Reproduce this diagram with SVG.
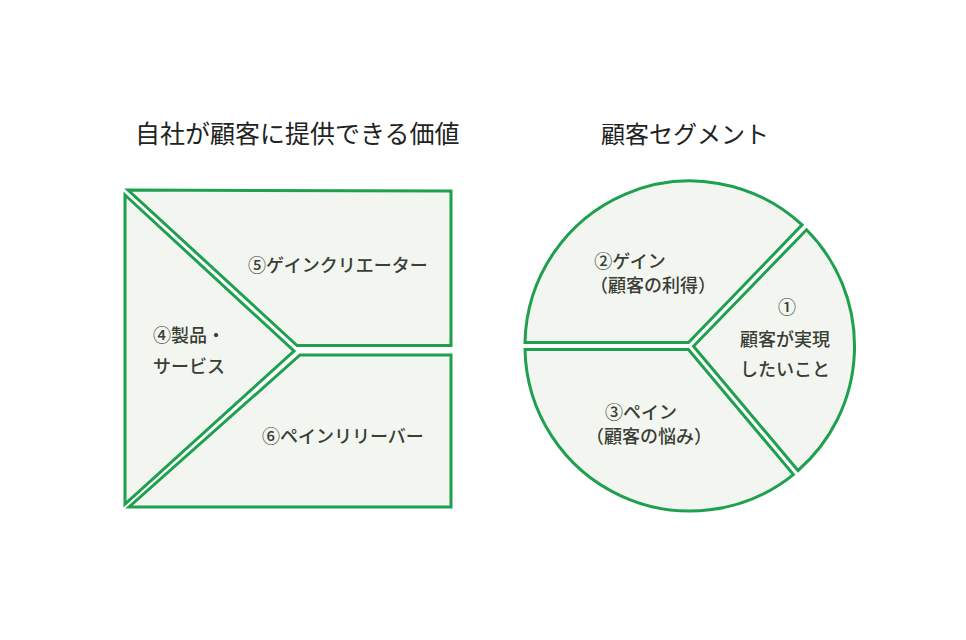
<svg xmlns="http://www.w3.org/2000/svg" width="966" height="640" viewBox="0 0 966 640">
<style>
.region{fill:#f3f6f0;stroke:#1fa04f;stroke-width:3;stroke-linejoin:miter}
.title{font-family:"Noto Sans CJK JP","Noto Sans",sans-serif;fill:#222;font-size:25px}
.lbl{font-family:"Noto Sans CJK JP","Noto Sans",sans-serif;fill:#3a3e35;font-size:18px;font-weight:500}
</style>
<rect width="966" height="640" fill="#ffffff"/>
<text class="title" x="135" y="143">自社が顧客に提供できる価値</text>
<text class="title" x="601" y="143" style="font-size:24px">顧客セグメント</text>

<g id="value-map">
  <g id="gain-creators">
    <path class="region" d="M128,190 L451,191 L451,345.5 L297,345.5 Z"/>
    <text class="lbl" x="248" y="272">⑤ゲインクリエーター</text>
  </g>
  <g id="products-services">
    <path class="region" d="M125,195 L294,351 L125,504 Z"/>
    <text class="lbl" x="153" y="342">④製品・</text>
    <text class="lbl" x="153" y="373">サービス</text>
  </g>
  <g id="pain-relievers">
    <path class="region" d="M300,355 L451,355 L451,507 L129,507 Z"/>
    <text class="lbl" x="262" y="443">⑥ペインリリーバー</text>
  </g>
</g>

<g id="customer-segment">
  <g id="gains">
    <path class="region" d="M525,342.5 L688.5,342.5 L802.1,224.9 A165,165 0 0 0 525,342.5 Z"/>
    <text class="lbl" x="630" y="268" text-anchor="middle">②ゲイン</text>
    <text class="lbl" x="653" y="292" text-anchor="middle">（顧客の利得）</text>
  </g>
  <g id="customer-jobs">
    <path class="region" d="M693.5,346.2 L806.5,229.8 A165,165 0 0 1 798,470.5 Z"/>
    <text class="lbl" x="787" y="314" text-anchor="middle">①</text>
    <text class="lbl" x="785" y="346" text-anchor="middle">顧客が実現</text>
    <text class="lbl" x="785" y="376" text-anchor="middle">したいこと</text>
  </g>
  <g id="pains">
    <path class="region" d="M688.4,349.5 L793.4,474.6 A165,165 0 0 1 525,349.5 Z"/>
    <text class="lbl" x="641" y="419" text-anchor="middle">③ペイン</text>
    <text class="lbl" x="649" y="443" text-anchor="middle">（顧客の悩み）</text>
  </g>
</g>
<g id="connectors"/>
</svg>
